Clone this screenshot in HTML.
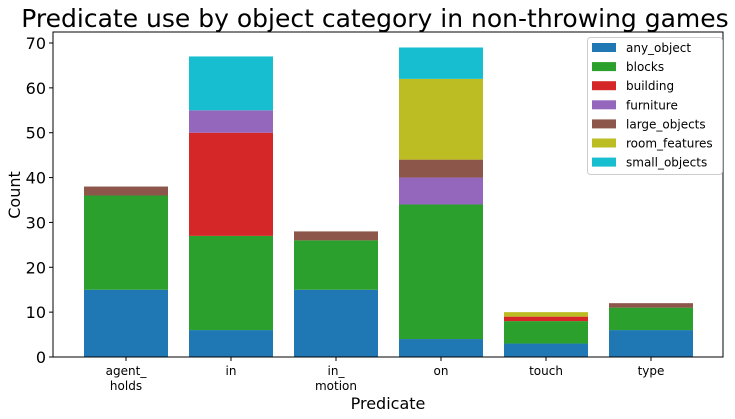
<!DOCTYPE html>
<html><head><meta charset="utf-8"><style>
body{margin:0;background:#fff;}
svg{display:block;font-family:"DejaVu Sans","Liberation Sans",sans-serif;}
</style></head><body>
<svg id="chart" width="735" height="419">
<text x="375" y="27" font-size="25" text-anchor="middle" fill="#000">Predicate use by object category in non-throwing games</text>
<g id="bars"></g>
<g id="axes"></g>
<g id="legend"></g>
</svg>
<script>
const categories = ["agent_\nholds","in","in_\nmotion","on","touch","type"];
const seriesNames = ["any_object","blocks","building","furniture","large_objects","room_features","small_objects"];
const anyObject = [15,6,15,4,3,6];
const blocks = [21,21,11,30,5,5];
const building = [0,23,0,0,1,0];
const furniture = [0,5,0,6,0,0];
const largeObjects = [2,0,2,4,0,1];
const roomFeatures = [0,0,0,18,1,0];
const smallObjects = [0,12,0,7,0,0];
const yTicks = [0,10,20,30,40,50,60,70];
const colors = ["#1f77b4","#2ca02c","#d62728","#9467bd","#8c564b","#bcbd22","#17becf"];

const series = [anyObject,blocks,building,furniture,largeObjects,roomFeatures,smallObjects];
const NS = "http://www.w3.org/2000/svg";
const X0=53, X1=723, Y0=357, Y70=43, TOP=32;
function yScale(v){return Y0 - v*(Y0-Y70)/70;}
function xCenter(i){return 126 + i*105;}
const BW=84;
function mk(tag, attrs, parent){const e=document.createElementNS(NS,tag);for(const k in attrs)e.setAttribute(k,attrs[k]);parent.appendChild(e);return e;}

const bars=document.getElementById('bars');
categories.forEach((c,i)=>{
  let base=0;
  series.forEach((s,j)=>{
    const v=s[i];
    if(v>0){
      const r=mk('rect',{x:xCenter(i)-BW/2,y:yScale(base+v),width:BW,height:yScale(base)-yScale(base+v),fill:colors[j]},bars);
      
      
    }
    base+=v;
  });
});

const axes=document.getElementById('axes');
const frame=mk('rect',{x:X0,y:TOP,width:X1-X0,height:Y0-TOP,fill:'none',stroke:'#000','stroke-width':1},axes);


yTicks.forEach(t=>{
  const y=yScale(t);
  mk('line',{x1:X0-4,x2:X0,y1:y,y2:y,stroke:'#000'},axes);
  const tx=mk('text',{x:X0-7,y:y+6,'font-size':16,'text-anchor':'end'},axes);
  tx.textContent=t;
  
  
});
categories.forEach((c,i)=>{
  const x=xCenter(i);
  mk('line',{x1:x,x2:x,y1:Y0,y2:Y0+4,stroke:'#000'},axes);
  c.split('\n').forEach((ln,k)=>{
    const tx=mk('text',{x:x,y:375+k*15,'font-size':12,'text-anchor':'middle'},axes);
    tx.textContent=ln;
    
    
  });
});
const xt=mk('text',{x:388,y:409,'font-size':16,'text-anchor':'middle'},axes);
xt.textContent='Predicate';


const yt=mk('text',{x:20,y:195,'font-size':16,'text-anchor':'middle',transform:'rotate(-90 20 195)'},axes);
yt.textContent='Count';



const lg=document.getElementById('legend');
mk('rect',{x:587.5,y:37.5,width:135,height:137,rx:3,fill:'#fff',stroke:'#ccc'},lg);
seriesNames.forEach((n,j)=>{
  const y=47+j*19.1;
  const g=mk('g',{},lg);
  
  
  mk('rect',{x:592,y:y-4,width:24,height:9,fill:colors[j]},g);
  const tx=mk('text',{x:626,y:y+5,'font-size':12},g);
  tx.textContent=n;
});
</script>
</body></html>
